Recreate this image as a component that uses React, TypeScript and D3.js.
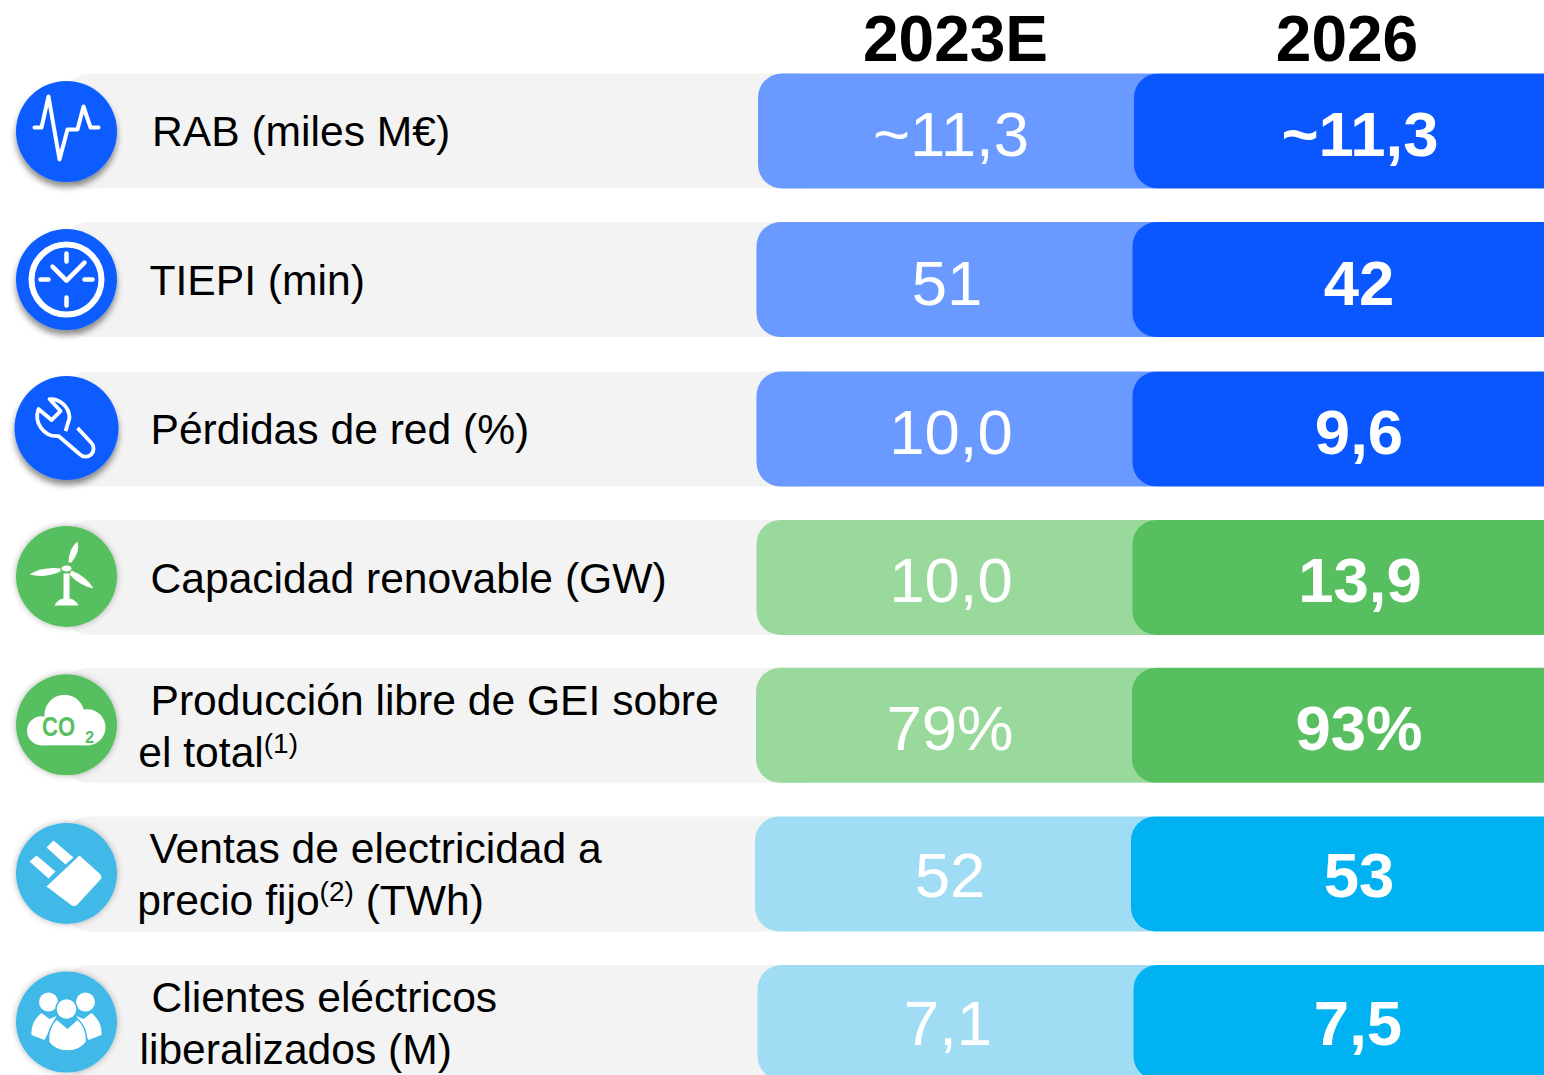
import React, { useRef, useEffect } from 'react';
import * as d3 from 'd3';

const years = ['2023E', '2026'];
const firstLines = ['RAB (miles M€)', 'TIEPI (min)', 'Pérdidas de red (%)', 'Capacidad renovable (GW)', 'Producción libre de GEI sobre', 'Ventas de electricidad a', 'Clientes eléctricos'];
const secondLines = ['', '', '', '', 'el total', 'precio fijo', 'liberalizados (M)'];
const notes = ['', '', '', '', '(1)', '(2)', ''];
const afterNotes = ['', '', '', '', '', ' (TWh)', ''];
const values2023 = ['~11,3', '51', '10,0', '10,0', '79%', '52', '7,1'];
const values2026 = ['~11,3', '42', '9,6', '13,9', '93%', '53', '7,5'];
const groups = ['red', 'red', 'red', 'green', 'green', 'sales', 'sales'];
const icons = ['pulse', 'clock', 'wrench', 'turbine', 'cloud', 'plug', 'people'];

// small hand nudges, the source slide is not quite aligned
const rowNudge = [0, 0, 0.9, 0.7, 0, 0, 0];
const barNudge = [0, -1.5, -1.5, -1.5, -2, -3, -0.5];
const labelNudge = [0, 0, 0, 0.7, 0, 0, -0.5];
const iconNudge = [0.5, 0, -1, -1, -0.5, -0.5, -0.5];
const firstX = [152, 149.5, 150.5, 150.5, 150.5, 149.5, 151.5];
const secondX = [0, 0, 0, 0, 138.3, 137.3, 139.5];
const valueBase = [82.5, 83, 82.5, 82.5, 82, 81, 80];
const center2023 = [951, 947, 951, 951, 950, 950, 948];
const center2026 = [1360, 1359, 1359, 1360, 1359, 1359, 1358];

const lightColor = d3.scaleOrdinal<string, string>().domain(['red', 'green', 'sales']).range(['#6a99ff', '#99d99b', '#a0ddf5']);
const darkColor = d3.scaleOrdinal<string, string>().domain(['red', 'green', 'sales']).range(['#0a57ff', '#57bf5f', '#00b2f1']);
const iconColor = d3.scaleOrdinal<string, string>().domain(['red', 'green', 'sales']).range(['#0a5cff', '#57bf5f', '#3fb8e8']);

const FONT = '"Liberation Sans", Arial, sans-serif';

function drawIcon(g: any, name: string, color: string) {
  if (name === 'pulse') {
    const pts: [number, number][] = [[-32, -4], [-25, -4], [-18, -35], [-7, 28], [1, -2], [11, -2], [17, -25], [24, -4], [32, -4]];
    g.append('path').attr('d', d3.line()(pts)).attr('fill', 'none').attr('stroke', '#fff')
      .attr('stroke-width', 4).attr('stroke-linejoin', 'round').attr('stroke-linecap', 'round');
  }
  if (name === 'clock') {
    g.append('circle').attr('r', 35).attr('fill', 'none').attr('stroke', '#fff').attr('stroke-width', 6);
    const s = g.append('g').attr('stroke', '#fff').attr('stroke-linecap', 'round').attr('fill', 'none').attr('stroke-width', 4.5);
    s.append('path').attr('d', 'M0,-26V-18M0,18V26M-26,0H-18M18,0H26');
    s.append('path').attr('d', 'M-14,-13L0,1L18,-17').attr('stroke-linejoin', 'round');
  }
  if (name === 'wrench') {
    g.append('path')
      .attr('d', 'M-1,3L3,-10A19,19 0 0 0 -17,-29L-6,-17L-15,-8L-28,-19A20,20 0 0 0 -8,8L13,26A8,8 0 0 0 25,15L11,0')
      .attr('fill', 'none').attr('stroke', '#fff').attr('stroke-width', 3.8).attr('stroke-linejoin', 'round');
  }
  if (name === 'turbine') {
    g.attr('fill', '#fff');
    g.append('ellipse').attr('cy', -8).attr('rx', 5).attr('ry', 3);
    g.append('path').attr('d', 'M2,-14Q2,-28 11,-35Q14,-25 5,-14Z');
    g.append('path').attr('d', 'M-6,-8Q-24,-10 -37,-2Q-22,2 -6,-5Z');
    g.append('path').attr('d', 'M5,-6Q20,0 27,12Q13,9 3,-2Z');
    g.append('path').attr('d', 'M-3,-3H3V23H-3Z');
    g.append('path').attr('d', 'M-12,29Q-9,23 -3,22H3Q9,23 12,29Z');
  }
  if (name === 'cloud') {
    g.attr('fill', '#fff');
    g.append('circle').attr('cx', -25).attr('cy', 6).attr('r', 14.5);
    g.append('circle').attr('cx', -2).attr('cy', -10).attr('r', 20);
    g.append('circle').attr('cx', 21).attr('cy', 2.5).attr('r', 18);
    g.append('rect').attr('x', -27).attr('y', 0).attr('width', 50).attr('height', 20.5);
    g.append('text').attr('transform', 'translate(-24.5,11) scale(0.82,1)').attr('font-family', FONT).attr('font-weight', 700)
      .attr('font-size', 27).attr('fill', color).text('CO');
    g.append('text').attr('x', 18.5).attr('y', 18.5).attr('font-family', FONT).attr('font-weight', 700)
      .attr('font-size', 16.5).attr('fill', color).text('2');
  }
  if (name === 'plug') {
    g.attr('fill', '#fff');
    g.append('path').attr('d', 'M13,-18L33,0Q37,4 33,7L11,31Q8,34 4,31L-20,13Z');
    g.append('path').attr('d', 'M-37,-12L-30,-18L-11,-2L-18,5Z');
    g.append('path').attr('d', 'M-20,-26L-13,-33L7,-16L-1,-9Z');
  }
  if (name === 'people') {
    g.attr('fill', '#fff');
    g.append('circle').attr('cx', -18).attr('cy', -20).attr('r', 9.5);
    g.append('circle').attr('cx', 19).attr('cy', -20).attr('r', 9.5);
    g.append('path').attr('d', 'M-25,-9L-17,-3L-10,-6L-22,18L-35,13Q-36,0 -25,-9Z');
    g.append('path').attr('d', 'M25,-9L17,-3L10,-6L22,18L35,13Q36,0 25,-9Z');
    g.append('circle').attr('cy', -13).attr('r', 10.5).attr('stroke', color).attr('stroke-width', 1.5);
    g.append('path').attr('d', 'M-10,-3L1,6L11,-3Q21,6 20,20Q14,29 1,29Q-12,29 -18,20Q-19,6 -10,-3Z')
      .attr('stroke', color).attr('stroke-width', 1.5);
  }
}

export default function App() {
  const svgRef = useRef<SVGSVGElement>(null);

  useEffect(() => {
    const svg = d3.select(svgRef.current);
    svg.selectAll('*').remove();

    const defs = svg.append('defs');
    const soft = defs.append('filter').attr('id', 'shadowLow').attr('x', '-30%').attr('y', '-30%').attr('width', '160%').attr('height', '160%');
    soft.append('feDropShadow').attr('dx', 0).attr('dy', 5).attr('stdDeviation', 3).attr('flood-color', '#000').attr('flood-opacity', 0.45);
    const glow = defs.append('filter').attr('id', 'shadowGlow').attr('x', '-30%').attr('y', '-30%').attr('width', '160%').attr('height', '160%');
    glow.append('feDropShadow').attr('dx', 0).attr('dy', 0).attr('stdDeviation', 3).attr('flood-color', '#000').attr('flood-opacity', 0.3);

    const idx = d3.range(firstLines.length);
    const y = d3.scaleLinear().domain([0, 6]).range([73.5, 965]);
    const rowH = 115;
    const cols = d3.scaleOrdinal<string, number>().domain(years).range([955.5, 1347]);

    svg.selectAll('.year').data(years).join('text')
      .attr('class', 'year')
      .attr('x', d => cols(d))
      .attr('y', 60.5)
      .attr('text-anchor', 'middle')
      .attr('font-family', FONT)
      .attr('font-weight', 700)
      .attr('font-size', 64)
      .text(d => d);

    const rows = svg.selectAll('.row').data(idx).join('g')
      .attr('class', 'row')
      .attr('transform', d => `translate(0,${y(d) + rowNudge[d]})`);

    // grey band, its right end sits under the coloured bars
    rows.append('rect').attr('x', 66).attr('width', 760).attr('height', rowH).attr('rx', 22).attr('fill', '#f3f3f3');
    rows.append('rect').attr('x', d => 758 + barNudge[d]).attr('width', 420).attr('height', rowH).attr('rx', 24)
      .attr('fill', d => lightColor(groups[d]));
    rows.append('rect').attr('x', d => 1134 + barNudge[d]).attr('width', 500).attr('height', rowH).attr('rx', 24)
      .attr('fill', d => darkColor(groups[d]));

    rows.append('text')
      .attr('x', d => center2023[d]).attr('y', d => valueBase[d])
      .attr('text-anchor', 'middle').attr('font-family', FONT).attr('font-size', 63.5).attr('fill', '#fff')
      .text(d => values2023[d]);
    rows.append('text')
      .attr('x', d => center2026[d]).attr('y', d => valueBase[d])
      .attr('text-anchor', 'middle').attr('font-family', FONT).attr('font-weight', 700).attr('font-size', 63.5).attr('fill', '#fff')
      .text(d => values2026[d]);

    rows.each(function (d) {
      const row = d3.select(this);
      const two = secondLines[d] !== '';
      row.append('text')
        .attr('x', firstX[d]).attr('y', (two ? 47 : 72.5) + labelNudge[d] * (two ? 0 : 1))
        .attr('font-family', FONT).attr('font-size', 42.6).attr('fill', '#000')
        .text(firstLines[d]);
      if (two) {
        const t = row.append('text').attr('x', secondX[d]).attr('y', 99 + labelNudge[d]).attr('font-family', FONT).attr('font-size', 42.6).attr('fill', '#000');
        t.append('tspan').text(secondLines[d]);
        if (notes[d]) t.append('tspan').attr('font-size', 28).attr('dy', -14).text(notes[d]);
        if (afterNotes[d]) t.append('tspan').attr('dy', 14).style('white-space', 'pre').text(afterNotes[d]);
      }

      const r = d === 2 ? 52 : 50.5;
      const ic = row.append('g').attr('transform', `translate(66.5,${rowH / 2 + iconNudge[d]})`);
      ic.append('circle').attr('r', r).attr('fill', iconColor(groups[d]))
        .attr('filter', d < 3 ? 'url(#shadowLow)' : 'url(#shadowGlow)');
      drawIcon(ic.append('g'), icons[d], iconColor(groups[d]));
    });
  }, []);

  return (
    <svg ref={svgRef} width={1544} height={1075} style={{ position: 'absolute', left: 0, top: 0, background: '#fff' }} />
  );
}
